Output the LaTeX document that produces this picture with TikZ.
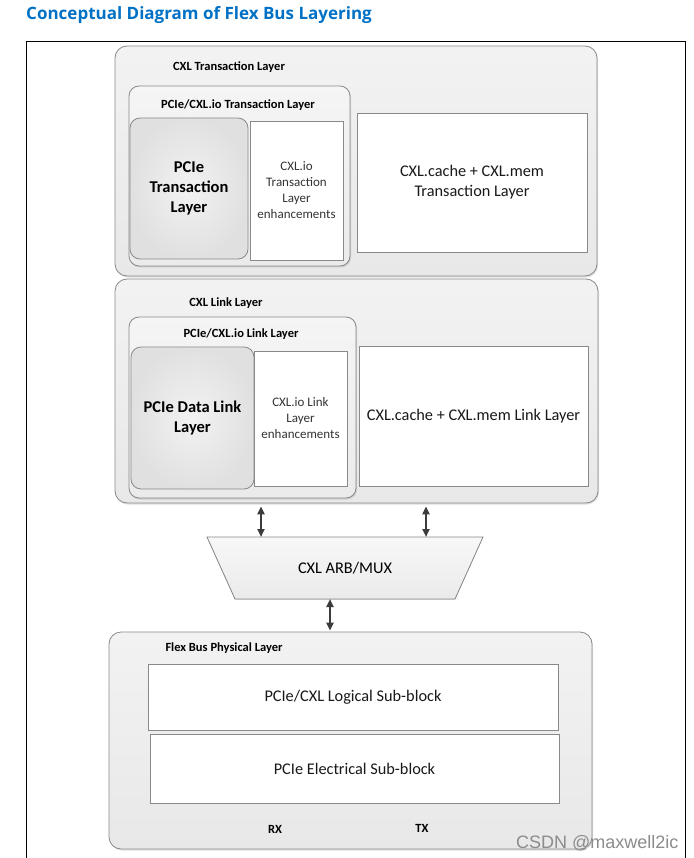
\documentclass[tikz,border=0pt]{standalone}
\usepackage{fontspec}
\setmainfont{Carlito}
\newfontfamily\titlefont{Open Sans}
\newfontfamily\markfont{Liberation Sans}
\usetikzlibrary{arrows.meta,shadows}
\definecolor{titleblue}{RGB}{0,113,197}
\definecolor{layerline}{RGB}{135,138,136}
\definecolor{arrowgray}{RGB}{60,60,60}

\begin{document}
\begin{tikzpicture}[x=1pt,y=-1pt,
    layer/.style={draw=layerline, line width=0.8pt, rounded corners=12pt,
        top color=black!5, bottom color=black!9,
        drop shadow={shadow xshift=1pt, shadow yshift=-1.5pt, opacity=0.25}},
    sublayer/.style={layer, rounded corners=10pt, top color=black!4, bottom color=black!8},
    pciebox/.style={draw=layerline, line width=0.8pt, rounded corners=10pt,
        inner color=black!5, outer color=black!12,
        font=\bfseries\fontsize{16.5}{20}\selectfont, align=center},
    enhbox/.style={draw=layerline, line width=0.6pt, fill=white,
        font=\fontsize{13}{16}\selectfont, text=black!80, align=center},
    whitebox/.style={draw=layerline, line width=0.6pt, fill=white,
        font=\fontsize{16.3}{20}\selectfont, text=black!90, align=center},
    tag/.style={font=\bfseries\fontsize{12.5}{14}\selectfont},
    dblarrow/.style={{Triangle[length=8pt,width=7pt]}-{Triangle[length=8pt,width=7pt]},
        line width=2pt, arrowgray}]
    \useasboundingbox (0,0) rectangle (693,858);
    \fill[white] (0,0) rectangle (693,858);
    \node[anchor=base west, inner sep=0pt, font=\titlefont\bfseries\fontsize{17}{19}\selectfont, text=titleblue] (title) at (26,20) {Conceptual Diagram of Flex Bus Layering};
    \draw[line width=1pt] (26,858) -- (26,42) -- (685,42) -- (685,858);
    % transaction layer
    \node[layer, minimum width=482pt, minimum height=230pt] (txlayer) at (356,161) {};
    \node[tag] (txlabel) at (229,67) {CXL Transaction Layer};
    \node[sublayer, minimum width=221pt, minimum height=180pt] (txio) at (239.5,176) {};
    \node[tag] (txiolabel) at (238,105) {PCIe/CXL.io Transaction Layer};
    \node[pciebox, minimum width=118pt, minimum height=141pt] (pcietx) at (189,188.5) {PCIe\\Transaction\\Layer};
    \node[enhbox, minimum width=93pt, minimum height=139pt] (ioenhtx) at (296.5,190.5) {CXL.io\\Transaction\\Layer\\enhancements};
    \node[whitebox, minimum width=230pt, minimum height=139pt] (cachemtx) at (472,182.5) {CXL.cache + CXL.mem\\Transaction Layer};
    % link layer
    \node[layer, minimum width=483pt, minimum height=224pt] (linklayer) at (356.5,391) {};
    \node[tag] (linklabel) at (226,303) {CXL Link Layer};
    \node[sublayer, minimum width=227pt, minimum height=181pt] (linkio) at (242.5,407.5) {};
    \node[tag] (linkiolabel) at (241,334) {PCIe/CXL.io Link Layer};
    \node[pciebox, minimum width=123pt, minimum height=142pt] (pciedl) at (192.5,418) {PCIe Data Link\\Layer};
    \node[enhbox, minimum width=93pt, minimum height=135pt] (ioenhlk) at (300.5,418.5) {CXL.io Link\\Layer\\enhancements};
    \node[whitebox, minimum width=229pt, minimum height=140pt] (cachemlk) at (473.5,416) {CXL.cache + CXL.mem Link Layer};
    % arb/mux
    \filldraw[draw=layerline, line width=0.8pt, top color=black!3, bottom color=black!8]
        (207,537) -- (483,537) -- (455,599) -- (235,599) -- cycle;
    \node[font=\fontsize{16.3}{19}\selectfont] (mux) at (345,568) {CXL ARB/MUX};
    \coordinate (muxl) at (261,537);
    \coordinate (muxr) at (426,537);
    \coordinate (muxb) at (330,599);
    % physical layer
    \node[layer, minimum width=483pt, minimum height=217pt] (phy) at (350.5,740.5) {};
    \node[tag] (phylabel) at (224,648) {Flex Bus Physical Layer};
    \node[whitebox, minimum width=410pt, minimum height=66pt] (logical) at (353,697) {PCIe/CXL Logical Sub-block};
    \node[whitebox, minimum width=409pt, minimum height=69pt] (electrical) at (354.5,768.5) {PCIe Electrical Sub-block};
    \node[tag] (rx) at (275,829) {RX};
    \node[tag] (tx) at (422,828) {TX};
    % connectors
    \draw[dblarrow] ([yshift=-3pt]linklayer.south -| muxl) -- (muxl);
    \draw[dblarrow] ([yshift=-3pt]linklayer.south -| muxr) -- (muxr);
    \draw[dblarrow] (muxb) -- ([yshift=1pt]phy.north -| muxb);
    \node[anchor=base east, font=\markfont\fontsize{18}{20}\selectfont, text=black!45] (mark) at (682,848) {CSDN @maxwell2ic};
\end{tikzpicture}
\end{document}
